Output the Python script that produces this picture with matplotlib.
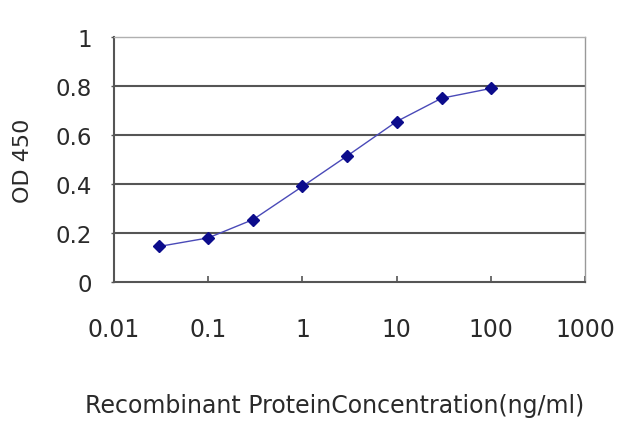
import matplotlib
matplotlib.use("Agg")
import matplotlib.pyplot as plt
from matplotlib.ticker import FixedLocator, FixedFormatter, NullLocator

# values
concentration = [0.03, 0.1, 0.3, 1, 3, 10, 30, 100]
od450 = [0.145, 0.18, 0.255, 0.39, 0.515, 0.655, 0.75, 0.79]

x_ticks = [0.01, 0.1, 1, 10, 100, 1000]
x_tick_labels = ["0.01", "0.1", "1", "10", "100", "1000"]
y_ticks = [0, 0.2, 0.4, 0.6, 0.8, 1]
y_tick_labels = ["0", "0.2", "0.4", "0.6", "0.8", "1"]

plt.rcParams["font.family"] = ["DejaVu Sans"]

fig = plt.figure(figsize=(6.4, 4.27), dpi=100)
ax = fig.add_axes([114 / 640, 144 / 427, 471 / 640, 245 / 427])

# horizontal grid
for y in y_ticks[1:-1]:
    ax.axhline(y, color="#555555", linewidth=1.5, zorder=1)

ax.plot(concentration, od450, color="#4a4ab8", linewidth=1.0, zorder=2)
ax.plot(concentration, od450, linestyle="none", marker="D", markersize=6.5,
        color="#0c0c8c", zorder=3)

ax.set_xscale("log")
ax.set_xlim(0.01, 1000)
ax.set_ylim(0, 1)

ax.xaxis.set_major_locator(FixedLocator(x_ticks))
ax.xaxis.set_major_formatter(FixedFormatter(x_tick_labels))
ax.xaxis.set_minor_locator(NullLocator())
ax.yaxis.set_major_locator(FixedLocator(y_ticks))
ax.yaxis.set_major_formatter(FixedFormatter(y_tick_labels))

ax.tick_params(axis="x", direction="in", length=4, width=1.2, color="#555555",
               pad=25, labelsize=17, labelcolor="#2a2a2a")
ax.tick_params(axis="y", direction="out", length=2, width=1.0, color="#555555",
               pad=14, labelsize=16.5, labelcolor="#2a2a2a")

for side in ["left", "bottom"]:
    ax.spines[side].set_color("#555555")
    ax.spines[side].set_linewidth(1.5)
ax.spines["top"].set_color("#b0b0b0")
ax.spines["top"].set_linewidth(1.0)
ax.spines["right"].set_color("#999999")
ax.spines["right"].set_linewidth(1.0)

ax.set_ylabel("OD 450", fontsize=16, color="#2a2a2a")
ax.set_xlabel("Recombinant ProteinConcentration(ng/ml)", fontsize=17, color="#2a2a2a")
ax.yaxis.set_label_coords(-0.172, 0.5)
ax.xaxis.set_label_coords(0.469, -0.453)

fig.savefig("out.png", dpi=100)
